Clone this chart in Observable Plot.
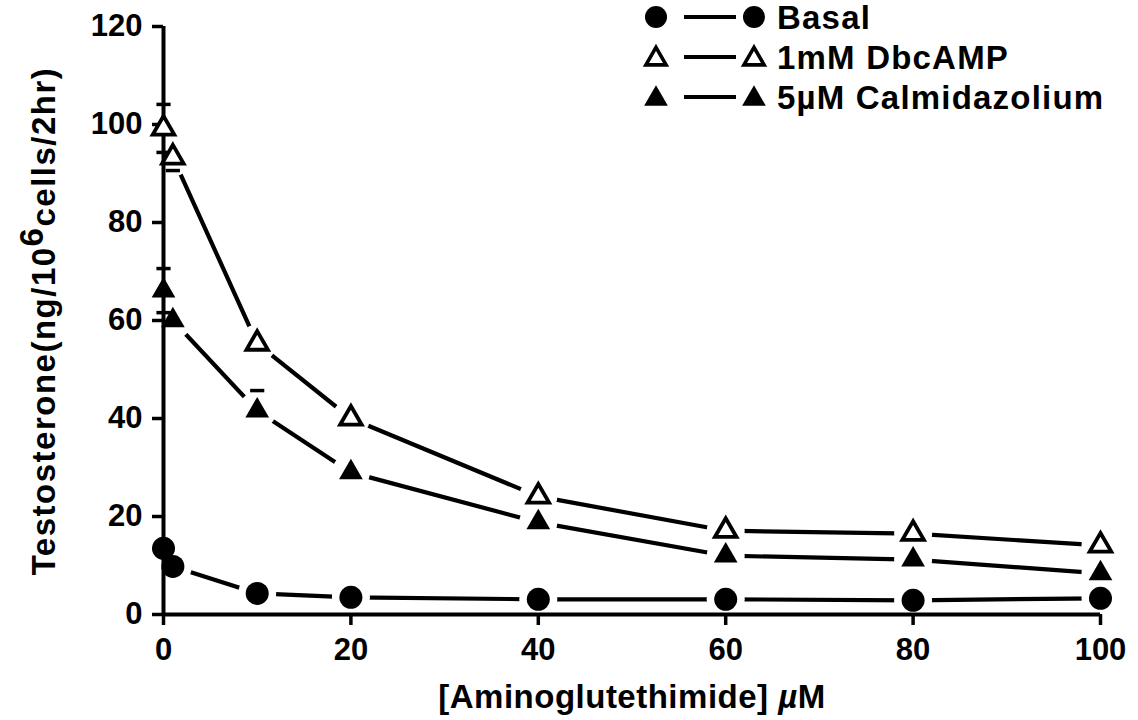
<!DOCTYPE html>
<html><head><meta charset="utf-8">
<script src="https://cdn.jsdelivr.net/npm/d3@7"></script>
<script src="https://cdn.jsdelivr.net/npm/@observablehq/plot@0.6"></script>
<style>
body{margin:0;background:#fff;}
#wrap{position:relative;width:1138px;height:720px;overflow:hidden;}
#legend{position:absolute;left:0;top:0;}
</style>
</head><body><div id="wrap"></div>
<script>
// ---- data ----
const doses = [0, 1, 10, 20, 40, 60, 80, 100];            // Aminoglutethimide, µM
const basal = [13.5, 9.8, 4.3, 3.5, 3.1, 3.1, 2.9, 3.3];
const dbcamp = [99.2, 93.3, 55.3, 40, 24.1, 17.1, 16.5, 14.1];
const calm = [66.1, 60, 41.6, 29, 18.8, 12, 11.2, 8.4];
// visible error-bar caps (dose, value)
const capDoses = [0, 0, 1, 0, 0, 10];
const capValues = [104.1, 94.3, 90.6, 70.6, 61.6, 45.7];
const yTicks = [0, 20, 40, 60, 80, 100, 120];
const xTicks = [0, 20, 40, 60, 80, 100];
const seriesNames = ["Basal", "1mM DbcAMP", "5\u00b5M Calmidazolium"];

const rows = (name, ys) => doses.map((d, i) => ({series: name, x: d, y: ys[i]}));
const dBasal = rows(seriesNames[0], basal);
const dDbc = rows(seriesNames[1], dbcamp);
const dCalm = rows(seriesNames[2], calm);
const all = [...dBasal, ...dDbc, ...dCalm];
const caps = capDoses.map((d, i) => ({x: d, y: capValues[i]}));

const capSymbol = {draw(ctx, size) { const w = Math.sqrt(size); ctx.moveTo(-w, 0); ctx.lineTo(w, 0); }};

const FONT = "Liberation Sans";
const lineW = 4.2;

const chart = Plot.plot({
  width: 1138, height: 720,
  marginLeft: 163, marginRight: 38, marginTop: 26, marginBottom: 106,
  style: {fontFamily: FONT, fontWeight: "bold", fontSize: "31px", background: "white", color: "black"},
  x: {domain: [0, 100]},
  y: {domain: [0, 120]},
  marks: [
    Plot.line(all, {x: "x", y: "y", z: "series", stroke: "black", strokeWidth: lineW}),
    Plot.dot(all, {x: "x", y: "y", r: 19, fill: "white", stroke: null}),
    Plot.ruleX([0], {stroke: "black", strokeWidth: 4}),
    Plot.ruleY([0], {stroke: "black", strokeWidth: 4}),
    Plot.axisY({ticks: yTicks, tickSize: 11, tickPadding: 10, strokeWidth: 3.5, label: null, fontSize: 31, fontWeight: "bold", letterSpacing: 1}),
    Plot.axisX({ticks: xTicks, tickSize: 11, tickPadding: 12, strokeWidth: 3.5, label: null, fontSize: 31, fontWeight: "bold", letterSpacing: 1}),
    Plot.dot(caps, {x: "x", y: "y", symbol: capSymbol, r: 4, stroke: "black", strokeWidth: 3.5, fill: null}),
    Plot.dot(dBasal, {x: "x", y: "y", r: 11.5, fill: "black", stroke: null}),
    Plot.dot(dDbc, {x: "x", y: "y", r: 8, symbol: "triangle", fill: "white", stroke: "black", strokeWidth: 3.8}),
    Plot.dot(dCalm, {x: "x", y: "y", r: 8.8, symbol: "triangle", fill: "black", stroke: null})
  ]
});

const wrap = document.getElementById("wrap");
wrap.appendChild(chart);

const svg = d3.select(chart);
// Y axis title with superscript
const yt = svg.append("text")
  .attr("transform", "translate(55,321) rotate(-90)")
  .attr("text-anchor", "middle")
  .attr("font-family", FONT).attr("font-weight", "bold").attr("font-size", 33)
  .attr("letter-spacing", 1.5)
  .attr("fill", "black");
yt.append("tspan").text("Testosterone(ng/10");
yt.append("tspan").attr("dy", -12).text("6");
yt.append("tspan").attr("dy", 12).text("cells/2hr)");

// X axis title
const xt = svg.append("text")
  .attr("x", 632).attr("y", 708)
  .attr("text-anchor", "middle")
  .attr("font-family", FONT).attr("font-weight", "bold").attr("font-size", 33)
  .attr("letter-spacing", 0.5)
  .attr("fill", "black");
xt.append("tspan").text("[Aminoglutethimide] ");
xt.append("tspan").attr("font-style", "italic").text("\u00b5");
xt.append("tspan").text("M");

// Legend
const lg = d3.select(wrap).append("svg").attr("id", "legend")
  .attr("width", 1138).attr("height", 130);
const legSym = [
  {sym: d3.symbolCircle, size: Math.PI * 11 * 11, fill: "black", stroke: "none", sw: 0},
  {sym: d3.symbolTriangle, size: Math.PI * 7.5 * 7.5, fill: "white", stroke: "black", sw: 3.6},
  {sym: d3.symbolTriangle, size: Math.PI * 8.8 * 8.8, fill: "black", stroke: "none", sw: 0}
];
seriesNames.forEach((name, i) => {
  const cy = 17 + 40 * i;
  const g = lg.append("g").attr("transform", `translate(0,${cy})`);
  const s = legSym[i];
  [656, 754].forEach(cx => {
    g.append("path").attr("d", d3.symbol(s.sym, s.size)()).attr("transform", `translate(${cx},${i === 0 ? 0 : 2})`)
      .attr("fill", s.fill).attr("stroke", s.stroke).attr("stroke-width", s.sw);
  });
  g.append("line").attr("x1", 684).attr("x2", 736).attr("y1", 0).attr("y2", 0)
    .attr("stroke", "black").attr("stroke-width", 4);
  g.append("text").attr("x", 777).attr("y", 0).attr("dy", "0.36em")
    .attr("font-family", FONT).attr("font-weight", "bold").attr("font-size", 33)
    .attr("letter-spacing", 1.2)
    .attr("fill", "black").text(name);
});
</script>
</body></html>
